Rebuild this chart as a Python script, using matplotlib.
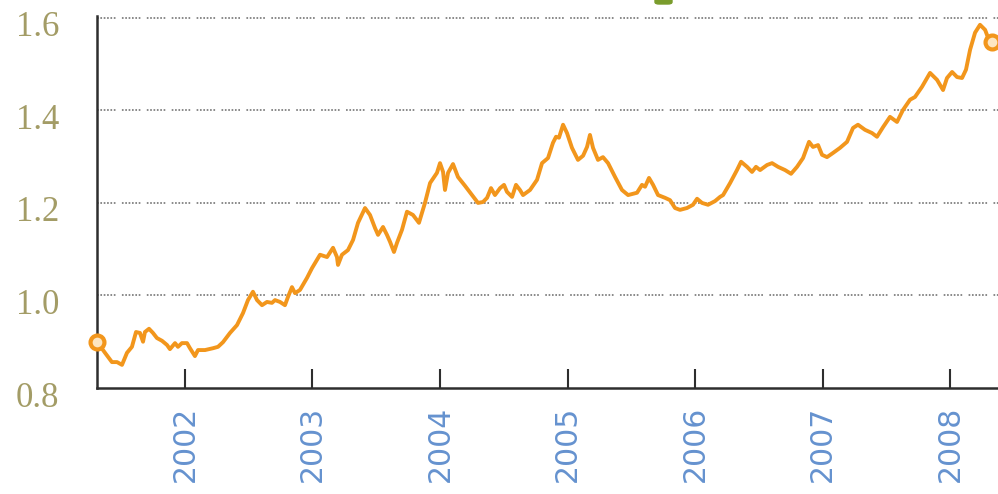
import matplotlib
matplotlib.use("Agg")
import matplotlib.pyplot as plt
from matplotlib.patches import FancyBboxPatch
from matplotlib.transforms import ScaledTranslation

# EUR/USD exchange rate, decimal year vs. rate
years = [
    2001.310, 2001.373, 2001.427, 2001.467, 2001.506, 2001.545, 2001.584, 2001.616,
    2001.647, 2001.671, 2001.686, 2001.718, 2001.749, 2001.780, 2001.820, 2001.859,
    2001.882, 2001.922, 2001.945, 2001.976, 2002.016, 2002.039, 2002.078, 2002.102,
    2002.157, 2002.220, 2002.259, 2002.298, 2002.353, 2002.408, 2002.455, 2002.494,
    2002.533, 2002.565, 2002.604, 2002.643, 2002.682, 2002.706, 2002.745, 2002.784,
    2002.808, 2002.839, 2002.863, 2002.902, 2002.957, 2002.996, 2003.059, 2003.114,
    2003.161, 2003.192, 2003.200, 2003.231, 2003.278, 2003.318, 2003.357, 2003.412,
    2003.451, 2003.490, 2003.514, 2003.553, 2003.584, 2003.608, 2003.639, 2003.663,
    2003.702, 2003.741, 2003.788, 2003.835, 2003.882, 2003.922, 2003.976, 2004.000,
    2004.024, 2004.039, 2004.063, 2004.102, 2004.141, 2004.196, 2004.251, 2004.298,
    2004.337, 2004.369, 2004.400, 2004.431, 2004.471, 2004.502, 2004.525, 2004.565,
    2004.596, 2004.627, 2004.651, 2004.706, 2004.761, 2004.800, 2004.847, 2004.886,
    2004.910, 2004.933, 2004.965, 2004.996, 2005.035, 2005.082, 2005.122, 2005.153,
    2005.176, 2005.200, 2005.239, 2005.278, 2005.318, 2005.373, 2005.427, 2005.475,
    2005.545, 2005.584, 2005.608, 2005.639, 2005.671, 2005.710, 2005.765, 2005.804,
    2005.843, 2005.882, 2005.937, 2005.984, 2006.016, 2006.055, 2006.102, 2006.157,
    2006.196, 2006.220, 2006.275, 2006.329, 2006.361, 2006.408, 2006.447, 2006.478,
    2006.510, 2006.565, 2006.604, 2006.651, 2006.706, 2006.753, 2006.800, 2006.847,
    2006.894, 2006.925, 2006.965, 2006.996, 2007.035, 2007.082, 2007.137, 2007.192,
    2007.239, 2007.278, 2007.333, 2007.388, 2007.427, 2007.475, 2007.529, 2007.584,
    2007.631, 2007.686, 2007.725, 2007.780, 2007.843, 2007.898, 2007.945, 2007.976,
    2008.016, 2008.055, 2008.094, 2008.125, 2008.157, 2008.196, 2008.235, 2008.275,
    2008.298, 2008.329,
]
rates = [
    0.900, 0.876, 0.856, 0.856, 0.850, 0.876, 0.889, 0.921,
    0.919, 0.900, 0.921, 0.928, 0.919, 0.908, 0.902, 0.893,
    0.884, 0.897, 0.889, 0.897, 0.897, 0.886, 0.869, 0.882,
    0.882, 0.886, 0.889, 0.899, 0.919, 0.936, 0.962, 0.990,
    1.008, 0.990, 0.979, 0.986, 0.984, 0.990, 0.986, 0.979,
    0.997, 1.018, 1.005, 1.012, 1.038, 1.059, 1.088, 1.083,
    1.103, 1.083, 1.066, 1.088, 1.098, 1.120, 1.157, 1.189,
    1.174, 1.146, 1.131, 1.148, 1.131, 1.116, 1.094, 1.114,
    1.142, 1.181, 1.174, 1.157, 1.200, 1.243, 1.265, 1.286,
    1.267, 1.228, 1.265, 1.284, 1.256, 1.237, 1.217, 1.200,
    1.202, 1.211, 1.232, 1.217, 1.232, 1.239, 1.224, 1.213,
    1.239, 1.228, 1.217, 1.228, 1.250, 1.286, 1.297, 1.330,
    1.343, 1.341, 1.369, 1.351, 1.319, 1.293, 1.302, 1.321,
    1.347, 1.319, 1.293, 1.299, 1.286, 1.256, 1.228, 1.217,
    1.222, 1.239, 1.235, 1.254, 1.239, 1.217, 1.211, 1.206,
    1.189, 1.185, 1.189, 1.196, 1.209, 1.200, 1.196, 1.204,
    1.213, 1.217, 1.243, 1.271, 1.289, 1.278, 1.267, 1.278,
    1.271, 1.282, 1.286, 1.278, 1.271, 1.263, 1.278, 1.297,
    1.332, 1.321, 1.325, 1.304, 1.299, 1.308, 1.319, 1.332,
    1.362, 1.369, 1.358, 1.351, 1.343, 1.364, 1.386, 1.375,
    1.401, 1.423, 1.429, 1.451, 1.481, 1.466, 1.444, 1.470,
    1.483, 1.472, 1.470, 1.488, 1.531, 1.568, 1.585, 1.574,
    1.557, 1.548,
]

year_ticks = [2002, 2003, 2004, 2005, 2006, 2007, 2008]
year_labels = ["2002", "2003", "2004", "2005", "2006", "2007", "2008"]
rate_ticks = [0.8, 1.0, 1.2, 1.4, 1.6]
rate_labels = ["0.8", "1.0", "1.2", "1.4", "1.6"]

LINE = "#f2961c"
AXIS = "#2e2e2e"
YLAB = "#a39c66"
XLAB = "#6592cf"

fig = plt.figure(figsize=(9.98, 4.94), dpi=100)
ax = fig.add_axes([97 / 998, 1 - 388 / 494, 1 - 97 / 998, 372 / 494])

ax.set_xlim(2001.310, 2008.376)
ax.set_ylim(0.8, 1.604)

# dotted horizontal guides, dots in groups of six
dots = (0, (1.1, 1.1, 1.1, 1.1, 1.1, 1.1, 1.1, 1.1, 1.1, 1.1, 1.1, 4.2))
for v in rate_ticks[1:]:
    ax.axhline(v, color="#6a6a6a", lw=1.1, linestyle=dots, zorder=1, clip_on=False)

ax.plot(years, rates, color=LINE, lw=2.8, solid_capstyle="round",
        solid_joinstyle="round", zorder=3)
ax.plot([years[0], years[-1]], [rates[0], rates[-1]], linestyle="none",
        marker="o", ms=10, mfc="#fde6c2", mec=LINE, mew=3, zorder=4, clip_on=False)

for side in ("top", "right"):
    ax.spines[side].set_visible(False)
for side in ("left", "bottom"):
    ax.spines[side].set_color(AXIS)
    ax.spines[side].set_linewidth(1.8)

ax.set_xticks(year_ticks)
ax.set_xticklabels(year_labels, rotation=90, color=XLAB,
                   fontsize=21.5, family="DejaVu Sans", va="top", ha="center")
ax.tick_params(axis="x", direction="in", length=14, width=1.5, color=AXIS, pad=13)

ax.set_yticks(rate_ticks)
ax.set_yticklabels(rate_labels, color=YLAB, fontsize=25, family="Liberation Serif")
ax.tick_params(axis="y", length=0, pad=27)
shift = ScaledTranslation(0, -6 / 100, fig.dpi_scale_trans)
for lab in ax.get_yticklabels():
    lab.set_transform(lab.get_transform() + shift)

# legend swatch peeking in at the top edge
fig.add_artist(FancyBboxPatch((655 / 998, 1 - 4 / 494), 17 / 998, 12 / 494,
                              boxstyle="round,pad=0,rounding_size=0.004",
                              transform=fig.transFigure, color="#7a9c2c",
                              clip_on=False))

fig.savefig("out.png", dpi=100, facecolor="white")
